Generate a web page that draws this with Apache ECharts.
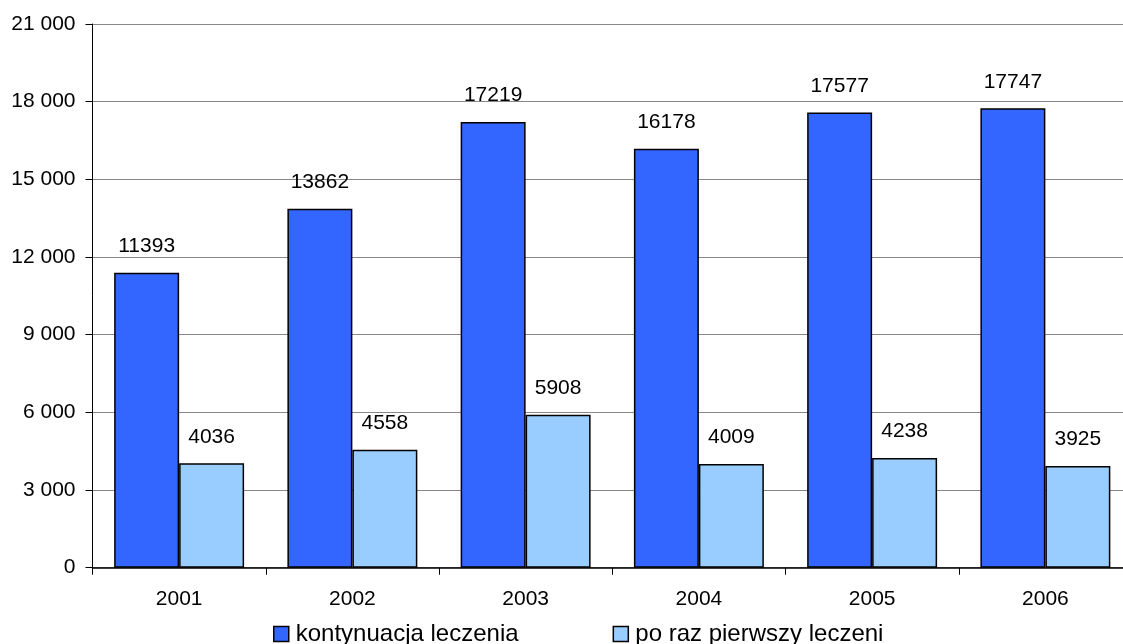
<!DOCTYPE html>
<html>
<head>
<meta charset="utf-8">
<style>
  html, body { margin: 0; padding: 0; background: #fff; overflow: hidden; }
  /* plot area runs a few pixels past the right edge of the window, as in the reference */
  #chart { width: 1132px; height: 644px; }
</style>
<script src="https://cdn.jsdelivr.net/npm/echarts@6/dist/echarts.min.js"></script>
</head>
<body>
<div id="chart"></div>
<script>
// values
const years = ['2001', '2002', '2003', '2004', '2005', '2006'];
const kontynuacja = [11393, 13862, 17219, 16178, 17577, 17747];
const pierwszy = [4036, 4558, 5908, 4009, 4238, 3925];
const seriesNames = ['kontynuacja leczenia', 'po raz pierwszy leczeni'];

const FONT = '"Liberation Sans", Arial, sans-serif';

// "21 000" style thousands
function fmt(v) {
  return String(v).replace(/\B(?=(\d{3})+(?!\d))/g, ' ');
}

const chart = echarts.init(document.getElementById('chart'));

const labelStyle = {
  show: true,
  position: 'top',
  distance: 16,
  color: '#000',
  fontFamily: FONT,
  fontSize: 21
};

chart.setOption({
  animation: false,
  grid: { left: 92.5, right: 0, top: 24, bottom: 76.3, containLabel: false },
  legend: {
    left: 268,
    top: 617,
    itemWidth: 15,
    itemHeight: 15,
    itemGap: 94,
    icon: 'rect',
    textStyle: { fontFamily: FONT, fontSize: 24, color: '#000', padding: [0, 0, 0, 2] },
    itemStyle: { borderColor: '#000', borderWidth: 1.5 },
    data: seriesNames
  },
  xAxis: {
    type: 'category',
    data: years,
    axisLine: { lineStyle: { color: '#000', width: 1.5 } },
    axisTick: { show: true, length: 7, lineStyle: { color: '#000' } },
    axisLabel: { color: '#000', fontFamily: FONT, fontSize: 21, margin: 21 }
  },
  yAxis: {
    type: 'value',
    min: 0,
    max: 21000,
    interval: 3000,
    axisLine: { show: true, lineStyle: { color: '#000', width: 1 } },
    axisTick: { show: true, length: 7, lineStyle: { color: '#000' } },
    axisLabel: { color: '#000', fontFamily: FONT, fontSize: 21, margin: 17, formatter: fmt },
    splitLine: { lineStyle: { color: '#888', width: 1.2 } }
  },
  series: [
    {
      name: seriesNames[0],
      type: 'bar',
      data: kontynuacja,
      barGap: '0%',
      barCategoryGap: '25%',
      itemStyle: { color: '#3366FF', borderColor: '#000', borderWidth: 1.5 },
      label: labelStyle
    },
    {
      name: seriesNames[1],
      type: 'bar',
      data: pierwszy,
      itemStyle: { color: '#99CCFF', borderColor: '#000', borderWidth: 1.5 },
      label: labelStyle
    }
  ]
});
</script>
</body>
</html>
